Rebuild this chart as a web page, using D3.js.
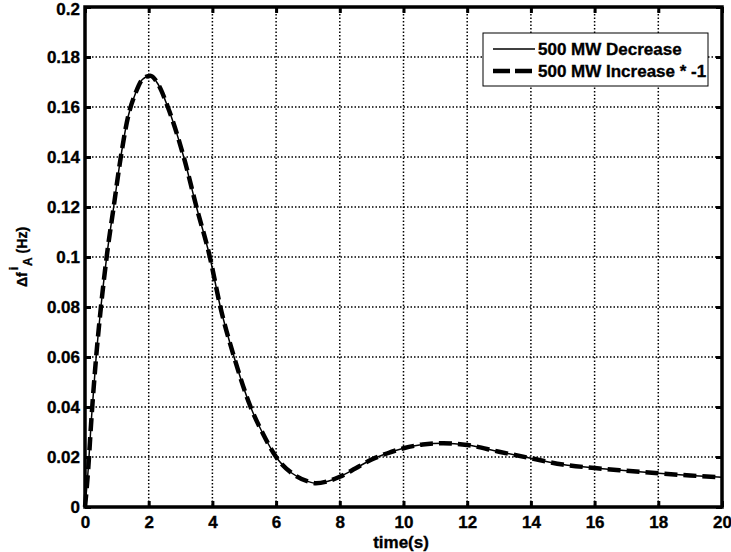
<!DOCTYPE html>
<html>
<head>
<meta charset="utf-8">
<script src="https://cdn.jsdelivr.net/npm/d3@7"></script>
<style>
  html, body { margin: 0; padding: 0; background: #fff; }
  svg { display: block; font-family: "Liberation Sans", Arial, sans-serif; font-weight: bold; }
  svg text { stroke: #000; stroke-width: 0.35px; }
</style>
</head>
<body>
<svg id="chart" width="731" height="552"></svg>
<script>
// Frequency deviation response of area A (Hz) versus time (s)
const timeS = [0, 0.1, 0.2, 0.35, 0.5, 0.7, 0.9, 1.1, 1.35, 1.6, 1.8, 2.05, 2.3, 2.6, 3.1, 3.5, 3.92, 4.25, 4.68, 5.2, 5.6, 6.0, 6.5, 7.0, 7.25, 7.6, 8.0, 8.5, 9.0, 9.5, 10.0, 10.6, 11.25, 12.0, 13.0, 14.0, 15.0, 16.0, 17.0, 18.0, 19.0, 20.0];
const decrease500 = [0, 0.015, 0.035, 0.06, 0.08, 0.102, 0.12, 0.138, 0.156, 0.166, 0.171, 0.1725, 0.169, 0.16, 0.14, 0.12, 0.1, 0.08, 0.06, 0.04, 0.029, 0.02, 0.0135, 0.0102, 0.0095, 0.0102, 0.0121, 0.0155, 0.019, 0.0215, 0.0235, 0.025, 0.0255, 0.0248, 0.0221, 0.0195, 0.017, 0.0156, 0.0145, 0.0135, 0.0126, 0.0119];
const increase500Neg = [0, 0.015, 0.035, 0.06, 0.08, 0.102, 0.12, 0.138, 0.156, 0.166, 0.171, 0.1725, 0.169, 0.16, 0.14, 0.12, 0.1, 0.08, 0.06, 0.04, 0.029, 0.02, 0.0135, 0.0102, 0.0095, 0.0102, 0.0121, 0.0155, 0.019, 0.0215, 0.0235, 0.025, 0.0255, 0.0248, 0.0221, 0.0195, 0.017, 0.0156, 0.0145, 0.0135, 0.0126, 0.0119];
const xTicks = [0, 2, 4, 6, 8, 10, 12, 14, 16, 18, 20];
const yTicks = [0, 0.02, 0.04, 0.06, 0.08, 0.1, 0.12, 0.14, 0.16, 0.18, 0.2];
const legendLabels = ["500 MW Decrease", "500 MW Increase * -1"];

const svg = d3.select("#chart");
const L = 85, R = 722, T = 7, B = 507;
const x = d3.scaleLinear().domain([0, 20]).range([L, R]);
const y = d3.scaleLinear().domain([0, 0.2]).range([B, T]);
const fs = 17;

// grid
const grid = svg.append("g");
grid.selectAll("line.gx").data(xTicks.slice(1, -1)).join("line")
  .attr("x1", d => x(d)).attr("x2", d => x(d)).attr("y1", T).attr("y2", B)
  .attr("stroke", "#000").attr("stroke-width", 1.5).attr("stroke-dasharray", "1.5,2");
grid.selectAll("line.gy").data(yTicks.slice(1, -1)).join("line")
  .attr("y1", d => y(d)).attr("y2", d => y(d)).attr("x1", L).attr("x2", R)
  .attr("stroke", "#000").attr("stroke-width", 1.5).attr("stroke-dasharray", "1.5,2");

// curves
const line = d3.line().x((d, i) => x(timeS[i])).y(d => y(d)).curve(d3.curveMonotoneX);
svg.append("path").attr("d", line(decrease500))
  .attr("fill", "none").attr("stroke", "#000").attr("stroke-width", 1.5);
svg.append("path").attr("d", line(increase500Neg))
  .attr("fill", "none").attr("stroke", "#000").attr("stroke-width", 4.5)
  .attr("stroke-dasharray", "13,6");

// axes (box style with inward ticks)
const axB = d3.axisBottom(x).tickValues(xTicks).tickSize(-6).tickPadding(9).tickFormat(d3.format("d"));
const axT = d3.axisTop(x).tickValues(xTicks).tickSize(-6).tickFormat("");
const axLft = d3.axisLeft(y).tickValues(yTicks).tickSize(-6).tickPadding(5).tickFormat(d => d === 0 ? "0" : d3.format("")(+d.toFixed(2)));
const axRgt = d3.axisRight(y).tickValues(yTicks).tickSize(-6).tickFormat("");

function style(g) {
  g.select(".domain").remove();
  g.selectAll(".tick line").attr("stroke", "#000").attr("stroke-width", 3);
  g.selectAll("text").attr("fill", "#000").style("font-size", fs + "px").style("font-weight", "bold");
}
svg.append("g").attr("transform", `translate(0,${B})`).call(axB).call(style);
svg.append("g").attr("transform", `translate(0,${T})`).call(axT).call(style);
const yAxisG = svg.append("g").attr("transform", `translate(${L},0)`).call(axLft).call(style);
// keep the top label inside the canvas
yAxisG.selectAll(".tick text").filter(d => d === 0.2).attr("dy", "0.42em");
svg.append("g").attr("transform", `translate(${R},0)`).call(axRgt).call(style);

svg.append("rect").attr("x", L).attr("y", T).attr("width", R - L).attr("height", B - T)
  .attr("fill", "none").attr("stroke", "#000").attr("stroke-width", 3.5);

// axis titles
svg.append("text").attr("x", 401).attr("y", 548).attr("text-anchor", "middle")
  .style("font-size", "17px").text("time(s)");

const yl = svg.append("text").attr("transform", "translate(27,257) rotate(-90)")
  .attr("text-anchor", "middle").style("font-size", "14px");
yl.append("tspan").text("\u0394f");
yl.append("tspan").attr("dx", 2).attr("dy", -9).style("font-size", "12px").text("i");
yl.append("tspan").attr("dx", 1).attr("dy", 14).style("font-size", "12px").text("A");
yl.append("tspan").attr("dy", -5).text(" (Hz)");

// legend
const lg = svg.append("g");
lg.append("rect").attr("x", 483).attr("y", 33).attr("width", 225).attr("height", 53)
  .attr("fill", "#fff").attr("stroke", "#000").attr("stroke-width", 1);
const rows = [49, 71];
lg.append("line").attr("x1", 493).attr("x2", 535).attr("y1", rows[0]).attr("y2", rows[0])
  .attr("stroke", "#000").attr("stroke-width", 1.5);
lg.append("line").attr("x1", 493).attr("x2", 535).attr("y1", rows[1]).attr("y2", rows[1])
  .attr("stroke", "#000").attr("stroke-width", 4.5).attr("stroke-dasharray", "17,5");
lg.selectAll("text.lab").data(legendLabels).join("text")
  .attr("x", 538).attr("y", (d, i) => rows[i] + 6)
  .style("font-size", fs + "px").text(d => d);
</script>
</body>
</html>
